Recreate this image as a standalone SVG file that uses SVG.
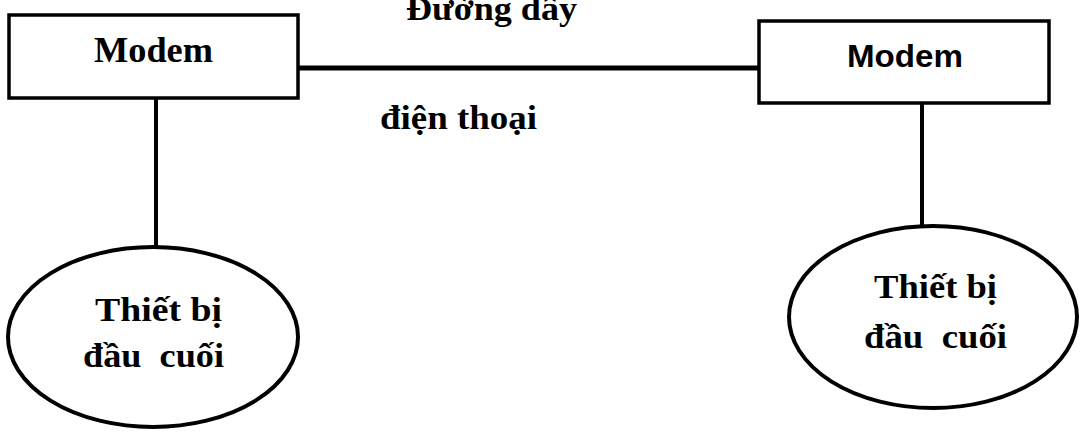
<svg xmlns="http://www.w3.org/2000/svg" width="1080" height="432" viewBox="0 0 1080 432">
<style>
.box{fill:#fff;stroke:#000;stroke-width:3.5}
.ell{fill:#fff;stroke:#000;stroke-width:4}
.ln{stroke:#000;fill:none}
.serif{font-family:"Liberation Serif","Times New Roman",serif;font-weight:bold;fill:#000}
.sans{font-family:"Liberation Sans",Arial,sans-serif;font-weight:bold;fill:#000}
</style>
<rect width="1080" height="432" fill="#fff"/>
<g id="connectors">
<line class="ln" x1="297" y1="68" x2="762" y2="68" stroke-width="5"/>
<line class="ln" x1="156" y1="98" x2="156" y2="248" stroke-width="4"/>
<line class="ln" x1="922" y1="103" x2="922" y2="227" stroke-width="4"/>
<text class="serif" x="406" y="20" font-size="33" textLength="171" lengthAdjust="spacingAndGlyphs">Đường dây</text>
<text class="serif" x="380" y="129" font-size="33" textLength="157" lengthAdjust="spacingAndGlyphs">điện thoại</text>
</g>
<g id="modem-left">
<rect class="box" x="9" y="15" width="289" height="83"/>
<text class="serif" x="94" y="62" font-size="35" textLength="119" lengthAdjust="spacingAndGlyphs">Modem</text>
</g>
<g id="modem-right">
<rect class="box" x="759" y="21" width="290" height="82"/>
<text class="sans" x="847" y="67" font-size="31" textLength="116" lengthAdjust="spacingAndGlyphs">Modem</text>
</g>
<g id="terminal-left">
<ellipse class="ell" cx="153" cy="337" rx="145" ry="90"/>
<text class="serif" x="95" y="321" font-size="34" textLength="127" lengthAdjust="spacingAndGlyphs">Thiết bị</text>
<text class="serif" x="83" y="367" font-size="34" textLength="141" lengthAdjust="spacingAndGlyphs" xml:space="preserve">đầu  cuối</text>
</g>
<g id="terminal-right">
<ellipse class="ell" cx="933" cy="317" rx="144" ry="91"/>
<text class="serif" x="874" y="298" font-size="34" textLength="123" lengthAdjust="spacingAndGlyphs">Thiết bị</text>
<text class="serif" x="864" y="348" font-size="34" textLength="143" lengthAdjust="spacingAndGlyphs" xml:space="preserve">đầu  cuối</text>
</g>
</svg>
